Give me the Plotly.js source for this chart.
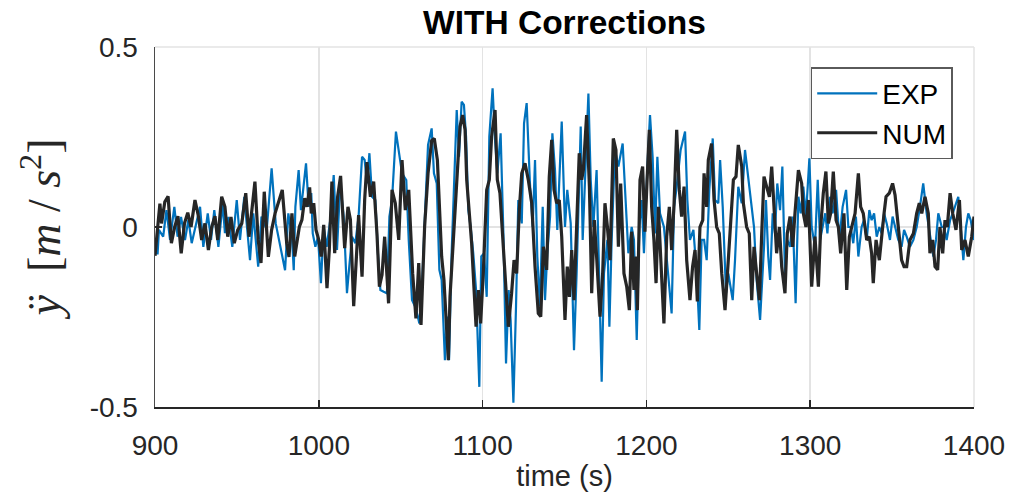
<!DOCTYPE html>
<html>
<head>
<meta charset="utf-8">
<script src="https://cdn.plot.ly/plotly-3.0.1.min.js"></script>
<style>html,body{margin:0;padding:0;background:#fff;}#chart{width:1020px;height:497px;}</style>
</head>
<body>
<div id="chart"></div>
<script>
// ---- data ----
const seriesNames = ["EXP", "NUM"];

const expTime = [900,901.6,902.4,905,907,909.2,911.8,913.8,915.9,918.3,920.4,922.4,927.5,929.5,932.2,934.2,936.2,938.7,941.3,942.7,944.8,947.2,949.9,951.9,954.5,958,960,963,965,968.2,971.2,973.7,979.4,981.4,983.6,
984.7,985.7,987.7,989.1,990.8,992.2,993.8,995.4,996.3,997.9,999.5,1001.3,1003,1004.8,1007,1009.1,1011.1,1013.1,1015.2,1017.2,1018.6,1020.3,1022.3,1024.3,1026.4,1028,1029.4,1030.9,1032.5,1034.5,1036.1,1037.6,1039.6,1041.6,1043.1,1044.7,1047.1,1048.8,1050.8,1053.4,1054.9,1056.9,1059.3,1061.4,1063,1064.6,1066.7,
1068.9,1070.3,1072,1073.6,1075,1077,1078.5,1079.5,1081.1,1082.5,1084.2,1085.6,1087.2,1088.6,1089.9,1091.3,1092.7,1094.3,1096,1098,1099.2,1100.9,1102.5,1104.1,1106.1,1107.6,1109,1111,1112.7,1114.3,1115.9,1117.1,1118.8,1120.4,1121.8,1123.9,1125.3,1126.9,1128.9,1130.6,1132,1133.4,1135,1136.7,1138.1,1139.5,1141.2,1142.6,1144.2,1145.6,
1148.3,1150.3,1151.7,1153.8,1155.8,1157.4,1159.9,1161.1,1163.1,1164.6,1166,1167.6,1169.6,1171.3,1172.7,1174.1,1176.2,1177.4,1178.8,1180.8,1182.9,1185.5,1187.5,1189,1191,1192.4,1194.1,1195.7,1197.1,1198.5,1200.6,1202.2,1203.8,1205.3,1206.7,1208.3,1210.7,1212.4,1215.4,1216.9,1218.5,1220.9,1223.6,1225,1226.6,1228.7,1230.7,1232.3,1233.7,1235.2,1236.8,1238.4,1240.5,1241.9,1243.9,1245,1246.6,1248.6,1250,1252.7,1254.1,1256.1,1258.2,1260.2,1262.2,1264.3,1265.7,1267.3,1269.4,
1271.8,1273,1274.4,1275.5,1277.1,1278.5,1279.9,1281.6,1283,1284.6,1286,1287.7,1289.3,1291.1,1292.8,1294.2,1295.8,1297.4,1299.5,1300.9,1302.9,1304.6,1306,1307.6,1309.2,1310.5,1312.1,1313.7,1315.8,1317.8,1319.8,1321.9,1323.3,1324.7,1326.3,1327.9,1329.4,1331.4,1332.8,1334.5,1336.1,1337.5,1339,1340.6,1342.2,1343.6,1345.1,1346.7,1348.7,1350.3,1352.4,1353.8,1355.8,1357.3,1358.9,1360.9,1363,1365,1367,1369,1371.1,1373.1,1375.2,1376.8,1378.2,1380.3,1381.7,1383.3,1385.4,1387,1388.4,1390.4,1391.9,1393.5,1395.1,1396.5,1398,1400];

const expValue = [-0.073,-0.073,-0.008,-0.027,0.047,-0.036,0.056,-0.027,0.028,-0.036,0.02,-0.045,0.056,-0.055,0.038,-0.036,0.047,-0.055,0.066,-0.017,0.028,-0.055,0.075,-0.036,0.084,-0.092,0.038,-0.11,0.029,-0.008,0.163,0.01,-0.12,0.038,-0.027,
-0.12,0.056,0.158,0.047,0.112,0.177,0.056,0.094,-0.018,-0.055,-0.027,-0.156,0.0,-0.055,0.02,0.144,-0.064,0.121,0.029,-0.184,-0.11,-0.027,-0.045,0.029,0.195,0.186,0.121,0.205,0.084,0.075,-0.073,-0.175,-0.18,-0.184,0.029,0.075,0.265,0.214,0.149,0.13,-0.036,-0.203,-0.226,-0.268,-0.166,0.01,0.228,
0.274,0.149,0.121,-0.119,-0.147,-0.37,-0.249,-0.37,-0.073,0.121,0.325,0.195,0.348,0.339,0.251,0.047,0.0,-0.073,-0.175,-0.444,-0.082,-0.073,-0.194,0.251,0.385,0.242,0.149,0.26,-0.018,-0.379,-0.175,-0.258,-0.488,-0.221,0.075,0.01,0.288,0.344,0.121,0.0,0.186,-0.082,-0.221,0.056,-0.203,-0.073,0.029,0.26,0.158,-0.008,
0.293,0.0,0.103,0.01,-0.342,-0.129,0.279,-0.036,0.214,0.371,0.131,0.0,0.158,-0.129,-0.43,-0.129,-0.036,-0.277,-0.036,0.214,0.168,0.232,0.075,-0.073,0.0,-0.036,-0.314,0.0,0.075,-0.073,0.168,0.311,0.195,-0.018,0.195,0.038,0.0,-0.082,-0.24,0.056,0.112,0.214,0.265,0.075,-0.036,-0.008,-0.129,-0.286,-0.036,-0.036,-0.092,0.103,0.246,0.075,0.066,0.186,0.056,-0.184,-0.129,-0.203,-0.092,0.112,0.066,0.214,0.14,0.056,0.0,-0.147,-0.258,
-0.055,0.075,-0.082,-0.147,0.038,-0.018,0.121,0.047,0.168,-0.129,-0.036,-0.055,0.029,-0.212,0.084,0.038,0.112,0.029,0.191,0.0,-0.055,0.131,-0.036,0.0,0.038,-0.018,0.084,0.038,0.103,-0.036,0.056,0.103,0.0,0.0,-0.045,0.029,-0.082,0.0,0.019,-0.036,0.047,0.019,0.038,-0.027,0.0,-0.018,0.038,0.01,-0.036,0.029,-0.008,-0.036,-0.055,-0.008,-0.027,-0.055,-0.036,0.0,0.056,0.121,0.038,-0.018,-0.082,-0.036,0.038,0.0,0.0,-0.036,0.019,0.038,0.056,0.084,0.0,-0.092,0.0,0.038,0.019,-0.036];

const numTime = [900,903,904,906,908,910,912,914,916,918,920,922,924.4,926.5,928.5,930.5,932.6,934.6,936.6,938.3,940.7,942.7,944.4,946.4,948.4,950.5,953,955.4,957.4,961,963,964.7,966.7,969.2,971.2,973.3,977.7,980.4,981.8,983.6,
985.3,986.7,988.1,989.7,991.4,992.8,994.4,995.4,996.9,998.3,1000,1001.5,1003,1005,1006.4,1008,1009.7,1011.5,1013.3,1015.8,1017.8,1019.3,1021.3,1023.3,1024.3,1026.4,1028,1029.4,1031.5,1033.5,1035.5,1037,1038.6,1040.2,1042.6,1044.7,1046.7,1048.8,1050.8,1052.8,1054.9,1057.3,1059.3,1061,1062.4,1064.6,1066.7,
1068.9,1070.5,1072.4,1073.6,1075,1076.4,1077.7,1079.1,1080.1,1081.7,1083.2,1084.6,1086.2,1087.8,1089.3,1090.3,1091.7,1093.3,1094.8,1096,1097.4,1098.8,1100.4,1102.5,1104.1,1105.5,1107.6,1109,1110.6,1112.2,1113.7,1115.7,1117.7,1119.2,1120.8,1122.4,1123.9,1125.9,1127.9,1130,1132,1134,1135.5,1137.1,1139.1,1140.7,1142.2,1143.6,1145.2,
1146.8,1148.3,1150.3,1151.7,1153,1154.4,1155.8,1157.4,1159,1160.5,1161.5,1163.5,1165.2,1166.6,1168.2,1169.6,1171.7,1173.3,1174.7,1176.2,1177.8,1179.8,1181.4,1182.9,1184.3,1186.3,1188,1189.6,1191,1192.4,1193.7,1194.5,1196.1,1197.7,1199.1,1200.6,1201.8,1203.2,1204.6,1205.9,1207.3,1208.7,1210.7,1212.4,1214,1215.4,1216.9,1218.5,1220.1,1221.5,1223,1224.6,1226.6,1228.2,1229.7,1231.1,1232.7,1234.4,1235.2,1236.8,1237.8,1239.8,1241.3,1242.9,1244.5,1246,1248,1250,1251.5,1253.1,1254.7,1256.1,1258.2,1259.2,1261.2,1262.8,1264.3,1265.7,1267.3,
1269,1270.4,1271.8,1273.4,1275.1,1276.5,1277.9,1279.5,1281.2,1282.6,1284.6,1286,1287.7,1289.3,1290.7,1292.8,1294.8,1295.8,1297.4,1298.9,1300.9,1302.9,1305,1306.4,1308,1309.6,1311.1,1312.5,1314.1,1315.8,1317.2,1318.6,1320.6,1322.3,1323.9,1325.3,1327.4,1329.4,1330.8,1332.4,1334.5,1336.1,1337.5,1338.5,1340.2,1342.2,1343.6,1345.1,1346.3,1348.3,1350.3,1351.8,1353.8,1355.8,1357.3,1358.9,1360.9,1363,1365,1366.6,1368.1,1370.1,1372.1,1373.1,1374.8,1376.2,1377.8,1379.2,1380.9,1382.3,1383.7,1385.4,1387,1389,1391.1,1392.5,1394.5,1396.5,1398.6,1400];

const numValue = [-0.08,0.065,0.01,0.07,0.085,-0.045,0.0,0.03,-0.073,0.01,0.04,0.0,0.075,0.03,-0.036,0.01,-0.064,0.0,0.03,-0.036,0.084,0.056,-0.027,0.028,-0.045,-0.008,0.01,0.094,-0.027,0.126,-0.036,-0.1,0.098,-0.083,-0.008,0.038,0.103,-0.045,-0.083,0.038,
-0.082,-0.036,0.0,0.02,0.08,0.056,0.11,0.038,0.066,-0.008,-0.036,-0.082,0.006,-0.17,-0.064,0.126,-0.073,0.084,0.142,-0.059,0.056,0.02,-0.22,-0.055,0.033,-0.138,0.075,0.18,0.084,0.126,-0.018,-0.166,-0.133,-0.027,-0.212,0.103,0.066,-0.036,0.186,0.047,0.103,-0.129,-0.254,-0.1,-0.272,0.0,0.149,
0.24,0.246,0.186,0.075,-0.082,-0.147,-0.249,-0.37,-0.194,-0.073,0.029,0.149,0.279,0.311,0.27,0.131,0.056,-0.045,-0.175,-0.277,-0.175,-0.268,-0.129,0.103,0.131,0.251,0.325,0.131,0.094,-0.018,-0.129,-0.277,-0.184,-0.092,-0.129,0.047,0.149,0.177,0.131,0.066,-0.11,-0.24,-0.249,-0.055,-0.119,0.14,0.242,0.103,0.066,
0.075,-0.027,-0.258,-0.11,-0.194,-0.064,-0.203,0.0,0.205,0.131,0.158,0.311,0.112,-0.184,0.019,-0.082,-0.249,-0.129,0.066,0.0,-0.092,0.246,0.214,-0.055,0.121,-0.129,-0.166,-0.231,-0.013,-0.175,-0.082,-0.231,0.131,0.168,-0.013,0.149,0.27,0.056,-0.036,-0.156,0.056,-0.082,-0.268,-0.027,0.056,-0.064,0.066,0.27,0.103,0.029,0.112,-0.092,-0.203,-0.11,-0.064,-0.207,0.0,0.019,0.149,0.056,0.186,0.232,0.075,0.0,-0.018,-0.129,-0.231,-0.092,0.019,0.131,0.14,0.228,0.168,0.066,0.0,-0.018,-0.203,-0.055,-0.129,
-0.203,-0.018,0.14,0.112,0.084,0.168,0.038,-0.073,0.0,-0.11,-0.184,-0.018,0.029,-0.055,0.038,0.158,0.121,0.038,0.0,0.075,-0.166,-0.027,-0.166,0.0,0.094,0.154,0.01,0.038,0.154,0.019,0.0,-0.073,0.038,-0.175,-0.027,0.0,0.038,0.149,0.056,0.038,-0.036,-0.027,-0.073,-0.156,-0.036,-0.092,-0.018,0.038,0.084,0.094,0.121,0.089,0.0,-0.092,-0.11,-0.11,-0.036,-0.018,0.038,0.066,0.038,0.084,0.038,-0.073,-0.036,-0.11,-0.119,0.0,-0.073,0.019,0.0,0.094,0.038,-0.008,0.075,-0.064,-0.036,-0.082,-0.027,0.029];

const xTickVals = [900, 1000, 1100, 1200, 1300, 1400];
const xTickText = ["900", "1000", "1100", "1200", "1300", "1400"];
const yTickVals = [-0.5, 0, 0.5];
const yTickText = ["-0.5", "0", "0.5"];

// ---- chart ----
const FONT = "Liberation Sans, Arial, Helvetica, sans-serif";
const GRID = "#e3e3e3";
const traces = [
  {x: expTime, y: expValue, name: seriesNames[0], type: "scatter", mode: "lines",
   line: {color: "#0072BD", width: 2.2}},
  {x: numTime, y: numValue, name: seriesNames[1], type: "scatter", mode: "lines",
   line: {color: "#262626", width: 3.2}}
];

const layout = {
  width: 1020, height: 497,
  paper_bgcolor: "#ffffff", plot_bgcolor: "#ffffff",
  margin: {l: 155, r: 46, t: 47, b: 90, pad: 0},
  font: {family: FONT, color: "#262626", size: 28},
  title: {text: "<b>WITH Corrections</b>", x: 0.5, xref: "paper", xanchor: "center",
          y: 0.955, yref: "container", yanchor: "middle",
          font: {family: FONT, size: 33.5, color: "#000000"}},
  xaxis: {range: [900, 1400], tickvals: xTickVals, ticktext: xTickText,
          ticks: "inside", ticklen: 7, tickwidth: 1.5, tickcolor: "#262626",
          showline: true, linecolor: "#262626", linewidth: 2,
          showgrid: true, gridcolor: GRID, gridwidth: 1.5,
          zeroline: false, ticklabelstandoff: 12,
          tickfont: {size: 28, color: "#262626"},
          title: {text: "time (s)", standoff: 6, font: {size: 29, color: "#262626"}}},
  yaxis: {range: [-0.5, 0.5], tickvals: yTickVals, ticktext: yTickText,
          ticks: "inside", ticklen: 7, tickwidth: 1.5, tickcolor: "#262626",
          showline: true, linecolor: "#4a4a4a", linewidth: 1.5,
          showgrid: true, gridcolor: GRID, gridwidth: 1.5,
          zeroline: false, ticklabelstandoff: 10,
          tickfont: {size: 28, color: "#262626"},
          title: {text: "<i>ÿ</i>  [<i>m</i> / <i>s</i><sup>2</sup>]", standoff: 14,
                  font: {family: "Liberation Serif, DejaVu Serif, serif", size: 46, color: "#262626"}}},
  shapes: [
    {type: "line", xref: "paper", yref: "paper", x0: 0, x1: 1, y0: 1, y1: 1,
     line: {color: GRID, width: 1.5}, layer: "below"},
    {type: "line", xref: "paper", yref: "paper", x0: 1, x1: 1, y0: 0, y1: 1,
     line: {color: GRID, width: 1.5}, layer: "below"}
  ],
  showlegend: true,
  legend: {x: 0.974, xanchor: "right", y: 0.944, yanchor: "top",
           bgcolor: "#ffffff", bordercolor: "#5a5a5a", borderwidth: 1.5,
           font: {family: FONT, size: 28, color: "#000000"},
           tracegroupgap: 0, itemwidth: 60}
};

Plotly.newPlot("chart", traces, layout, {displayModeBar: false, staticPlot: true});
</script>
</body>
</html>
